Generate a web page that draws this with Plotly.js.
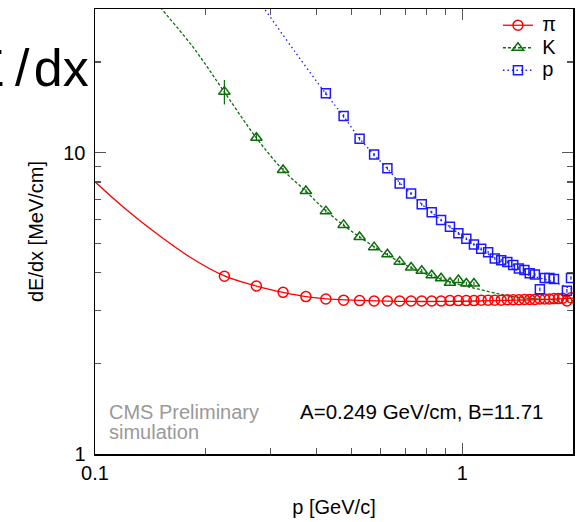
<!DOCTYPE html>
<html>
<head>
<meta charset="utf-8">
<script src="https://cdn.plot.ly/plotly-3.0.1.min.js"></script>
<style>html,body{margin:0;padding:0;background:#fff;}#chart{width:581px;height:522px;}</style>
</head>
<body>
<div id="chart"></div>
<script>
// ---- data ----
const piP = [0.225,0.275,0.325,0.375,0.425,0.475,0.525,0.575,0.625,0.675,0.725,0.775,0.825,0.875,0.925,0.975,1.025,1.075,1.125,1.175,1.225,1.275,1.325,1.375,1.425,1.475,1.525,1.575,1.625,1.675,1.725,1.775,1.825,1.875,1.925,1.975];
const piDedx = [3.89,3.61,3.44,3.33,3.27,3.24,3.23,3.22,3.22,3.22,3.22,3.22,3.22,3.22,3.23,3.23,3.23,3.23,3.24,3.24,3.24,3.24,3.25,3.25,3.25,3.26,3.26,3.26,3.27,3.27,3.27,3.28,3.28,3.29,3.22,3.30];

const kP = [0.225,0.275,0.325,0.375,0.425,0.475,0.525,0.575,0.625,0.675,0.725,0.775,0.825,0.875,0.925,0.975,1.025,1.075];
const kDedx = [15.95,11.22,8.76,7.46,6.40,5.76,5.25,4.86,4.60,4.35,4.16,4.06,3.92,3.83,3.70,3.78,3.68,3.68];
const kErr = [1.5,0.3,0.15,0.1,0.08,0.06,0.05,0.05,0.05,0.05,0.05,0.05,0.05,0.05,0.05,0.05,0.05,0.05];

const prP = [0.425,0.475,0.525,0.575,0.625,0.675,0.725,0.775,0.825,0.875,0.925,0.975,1.025,1.075,1.125,1.175,1.225,1.275,1.325,1.375,1.425,1.475,1.525,1.575,1.625,1.675,1.725,1.775,1.925,1.975];
const prDedx = [15.75,13.24,11.13,9.86,8.88,7.91,7.33,6.74,6.35,5.98,5.68,5.40,5.18,4.96,4.80,4.67,4.46,4.40,4.34,4.24,4.13,4.08,3.98,3.94,3.52,3.84,3.84,3.81,3.48,3.84];
const prErr = [0.2,0.17,0.14,0.12,0.1,0.09,0.08,0.07,0.07,0.06,0.06,0.06,0.05,0.05,0.05,0.05,0.05,0.05,0.05,0.05,0.05,0.05,0.05,0.05,0.05,0.05,0.05,0.05,0.05,0.05];

// fit curves
const piFitP = [0.1,0.12,0.148,0.182,0.225,0.275,0.325,0.375,0.45,0.55,0.7,0.9,1.1,1.4,1.7,2.0];
const piFitDedx = [8.01,6.57,5.36,4.49,3.90,3.61,3.44,3.33,3.26,3.23,3.21,3.21,3.22,3.24,3.26,3.29];

const kFitP = [0.148,0.152,0.186,0.225,0.275,0.325,0.375,0.425,0.5,0.6,0.7,0.8,0.9,1.0,1.1,1.35,1.5,1.75,2.0];
const kFitDedx = [31.3,30.0,22.2,15.9,11.2,8.76,7.45,6.42,5.48,4.72,4.24,3.95,3.76,3.63,3.53,3.34,3.29,3.25,3.23];

const prFitP = [0.286,0.29,0.35,0.425,0.475,0.525,0.575,0.625,0.675,0.725,0.775,0.825,0.875,0.925,0.975,1.025,1.1,1.2,1.3,1.4,1.5,1.6,1.7,1.8,1.9,2.0];
const prFitDedx = [30.6,29.9,21.65,15.7,13.2,11.15,9.85,8.85,7.95,7.30,6.75,6.33,5.97,5.67,5.40,5.17,4.86,4.53,4.27,4.08,3.94,3.86,3.78,3.70,3.60,3.52];

const legendNames = ['π','K','p'];
const xMajor = [0.1,1];
const xMajorText = ['0.1','1'];
const xMinor = [0.2,0.3,0.4,0.5,0.6,0.7,0.8,0.9,2];
const yMajor = [1,10];
const yMajorText = ['1','10'];
const yMinor = [2,3,4,5,6,7,8,9,20,30];

const FONT = 'Liberation Sans, Arial, sans-serif';
const RED = '#ff0000', GREEN = '#0b6e0b', BLUE = '#1a1aff';
const lg = n => '\u00a0<span style="font-size:20px">' + n + '</span>';

const traces = [
  {x: piFitP, y: piFitDedx, mode:'lines', line:{color:RED, width:1.3, shape:'spline'}, showlegend:false, hoverinfo:'skip'},
  {x: kFitP, y: kFitDedx, mode:'lines', line:{color:GREEN, width:1.3, dash:'3px,2px', shape:'spline'}, showlegend:false, hoverinfo:'skip'},
  {x: prFitP, y: prFitDedx, mode:'lines', line:{color:BLUE, width:1.3, dash:'1.5px,3px', shape:'spline'}, showlegend:false, hoverinfo:'skip'},
  {x: piP, y: piDedx, name:legendNames[0], mode:'markers', showlegend:false, marker:{symbol:'circle-open', size:10, color:RED, line:{width:1.5, color:RED}}},
  {x: kP, y: kDedx, name:legendNames[1], mode:'markers', showlegend:false, marker:{symbol:'triangle-up-open', size:10, color:GREEN, line:{width:1.5, color:GREEN}},
   error_y:{type:'data', array:kErr, visible:true, color:GREEN, thickness:1.2, width:0}},
  {x: prP, y: prDedx, name:legendNames[2], mode:'markers', showlegend:false, marker:{symbol:'square-open', size:9, color:BLUE, line:{width:1.5, color:BLUE}},
   error_y:{type:'data', array:prErr, visible:true, color:BLUE, thickness:1.2, width:0}},
  // legend entries (line + marker style of each species)
  {x:[null], y:[null], name:lg(legendNames[0]), mode:'lines+markers', line:{color:RED, width:1.3}, marker:{symbol:'circle-open', size:10, color:RED, line:{width:1.5, color:RED}}},
  {x:[null], y:[null], name:lg(legendNames[1]), mode:'lines+markers', line:{color:GREEN, width:1.3, dash:'3px,2px'}, marker:{symbol:'triangle-up-open', size:10, color:GREEN, line:{width:1.5, color:GREEN}}},
  {x:[null], y:[null], name:lg(legendNames[2]), mode:'lines+markers', line:{color:BLUE, width:1.3, dash:'1.5px,3px'}, marker:{symbol:'square-open', size:9, color:BLUE, line:{width:1.5, color:BLUE}}}
];

const axisCommon = {
  type:'log', showgrid:false, zeroline:false, showline:true, linecolor:'#000', linewidth:1.5,
  mirror:'ticks', ticks:'inside', ticklen:11, tickwidth:1.2, tickcolor:'#555',
  tickmode:'array', tickfont:{family:FONT, size:20, color:'#000'}
};

const layout = {
  width:581, height:522,
  margin:{l:95, r:8, t:9, b:68},
  paper_bgcolor:'#fff', plot_bgcolor:'#fff',
  font:{family:FONT, color:'#000'},
  xaxis: Object.assign({}, axisCommon, {
    range:[-1, Math.log10(2)], tickvals:xMajor, ticktext:xMajorText,
    minor:{tickmode:'array', tickvals:xMinor, ticks:'inside', ticklen:6, tickwidth:1.2, tickcolor:'#555'},
    title:{text:'p [GeV/c]', font:{family:FONT, size:20, color:'#000'}, standoff:17}
  }),
  yaxis: Object.assign({}, axisCommon, {
    range:[0, Math.log10(30)], tickvals:yMajor, ticktext:yMajorText, ticklabelstandoff:4,
    minor:{tickmode:'array', tickvals:yMinor, ticks:'inside', ticklen:6, tickwidth:1.2, tickcolor:'#555'},
    title:{text:'dE/dx [MeV/cm]', font:{family:FONT, size:20, color:'#000'}, standoff:14}
  }),
  legend:{x:0.843, y:1.0, xanchor:'left', yanchor:'top', bgcolor:'rgba(0,0,0,0)', borderwidth:0,
          font:{family:FONT, size:15, color:'#000'}, tracegroupgap:0, itemwidth:30},
  annotations:[
    {xref:'paper', yref:'paper', x:0.025, y:0.095, xanchor:'left', yanchor:'middle', showarrow:false,
     text:'CMS Preliminary', font:{family:FONT, size:20, color:'#999999'}},
    {xref:'paper', yref:'paper', x:0.025, y:0.05, xanchor:'left', yanchor:'middle', showarrow:false,
     text:'simulation', font:{family:FONT, size:20, color:'#999999'}},
    {xref:'paper', yref:'paper', x:0.4247, y:0.095, xanchor:'left', yanchor:'middle', showarrow:false,
     text:'A=0.249 GeV/cm, B=11.71', font:{family:FONT, size:20.5, color:'#000'}},
    {xref:'paper', yref:'paper', x:-0.0084, y:0.867, xanchor:'right', yanchor:'middle', showarrow:false,
     text:'dE\u2009/\u200Adx', font:{family:FONT, size:52, color:'#000'}}
  ]
};

Plotly.newPlot('chart', traces, layout, {staticPlot:true, displayModeBar:false});
</script>
</body>
</html>
